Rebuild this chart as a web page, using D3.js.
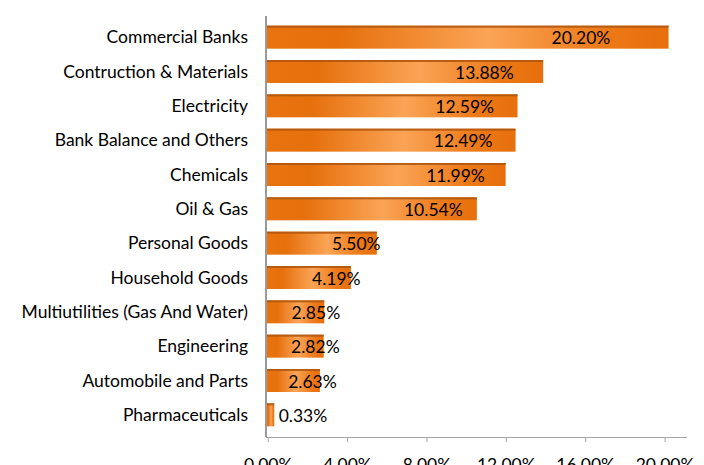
<!DOCTYPE html>
<html>
<head>
<meta charset="utf-8">
<script src="https://cdn.jsdelivr.net/npm/d3@7"></script>
<style>
body { margin: 0; background: #fff; }
text { font-family: Lato, "Open Sans", sans-serif; fill: #000; }
</style>
</head>
<body>
<svg class="bar-chart"></svg>
<script>
categories = [
    "Commercial Banks", "Contruction & Materials ", "Electricity",
    "Bank Balance and Others", "Chemicals", "Oil & Gas", "Personal Goods",
    "Household Goods", "Multiutilities (Gas And Water)", "Engineering",
    "Automobile and Parts", "Pharmaceuticals"
];
values = [20.20, 13.88, 12.59, 12.49, 11.99, 10.54, 5.50, 4.19, 2.85, 2.82, 2.63, 0.33];
xTicks = [0, 4, 8, 12, 16, 20];

WIDTH = 704;
HEIGHT = 465;
PLOT = {left: 266, right: 687, top: 16, bottom: 437};
X_MAX = 21.13;
FONT_SIZE = "17.5px";

svg = d3.select(".bar-chart").attr("width", WIDTH).attr("height", HEIGHT);

x = d3.scaleLinear().domain([0, X_MAX]).range([PLOT.left + 1.7, PLOT.right]);
y = d3.scaleBand().domain(categories).range([20, 432]).paddingInner(0.33).paddingOuter(0.165);

// gradient, dark - light - dark along the bar
defs = svg.append("defs");
grad = defs.append("linearGradient").attr("id", "barGrad")
    .attr("x1", "0%").attr("x2", "100%").attr("y1", "0%").attr("y2", "0%");
[[0, "#e8730f"], [0.18, "#e6700c"], [0.55, "#fba456"], [0.85, "#ec7816"], [1, "#e76f0c"]]
    .forEach(function(s) {
        grad.append("stop").attr("offset", s[0]).attr("stop-color", s[1]);
    });

// x axis
xAxis = svg.append("g")
    .attr("transform", "translate(0," + PLOT.bottom + ")")
    .call(d3.axisBottom(x).tickValues(xTicks).tickSize(5).tickPadding(13)
        .tickFormat(function(d) { return d3.format(".2f")(d) + "%"; }));
xAxis.select(".domain").attr("stroke", "#a6a6a6").attr("d", "M" + PLOT.left + ",0.5H" + PLOT.right);
xAxis.selectAll(".tick line").attr("stroke", "#a6a6a6");
xAxis.selectAll(".tick text").style("font-size", FONT_SIZE).attr("dy", "0.9em");

// y axis with category labels
yAxis = svg.append("g")
    .attr("transform", "translate(" + PLOT.left + ",0)")
    .call(d3.axisLeft(y).tickSize(0).tickPadding(18));
yAxis.select(".domain").remove();
yAxis.selectAll(".tick text").style("font-size", FONT_SIZE).attr("dy", "0.36em");

svg.append("line")
    .attr("x1", PLOT.left).attr("x2", PLOT.left)
    .attr("y1", PLOT.top).attr("y2", PLOT.bottom)
    .attr("stroke", "#9a9a9a").attr("stroke-width", 2);

bars = svg.append("g").selectAll("g")
    .data(values)
    .enter().append("g");

bars.append("rect")
    .attr("x", PLOT.left + 1)
    .attr("y", function(d, i) { return y(categories[i]); })
    .attr("width", function(d) { return x(d) - PLOT.left - 1; })
    .attr("height", y.bandwidth())
    .attr("fill", "url(#barGrad)");

// darker top edge
bars.append("rect")
    .attr("x", PLOT.left + 1)
    .attr("y", function(d, i) { return y(categories[i]); })
    .attr("width", function(d) { return x(d) - PLOT.left - 1; })
    .attr("height", 2)
    .attr("fill", "#b05812")
    .attr("opacity", 0.9);

bars.append("text")
    .attr("x", function(d) {
        len = x(d) - PLOT.left;
        return PLOT.left + Math.max(0.77 * len + 5, 37);
    })
    .attr("y", function(d, i) { return y(categories[i]) + y.bandwidth() / 2 + 1; })
    .attr("dy", "0.36em")
    .attr("text-anchor", "middle")
    .style("font-size", FONT_SIZE)
    .text(function(d) { return d3.format(".2f")(d) + "%"; });
</script>
</body>
</html>
